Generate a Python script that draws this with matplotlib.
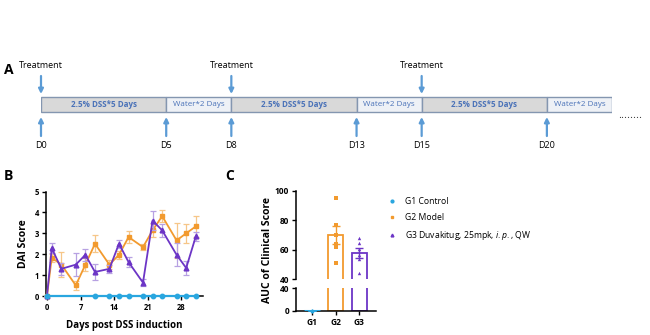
import matplotlib as mpl
mpl.use('Agg')
import matplotlib.pyplot as plt
from matplotlib.patches import Rectangle
from matplotlib.lines import Line2D
import numpy as np

plt.rcParams['font.family'] = ['Open Sans', 'DejaVu Sans']
plt.rcParams['mathtext.fontset'] = 'custom'
plt.rcParams['mathtext.rm'] = 'Open Sans'
plt.rcParams['mathtext.it'] = 'Open Sans:italic'

BLUE = '#29a6df'
ORANGE = '#f29a2e'
PURPLE = '#6c35c6'
ARROW = '#5b9bd5'
SEG_TEXT = '#4a72b8'

# dosing schedule (schematic widths, not to scale)
segment_labels = ['2.5% DSS*5 Days', 'Water*2 Days',
                  '2.5% DSS*5 Days', 'Water*2 Days',
                  '2.5% DSS*5 Days', 'Water*2 Days']
segment_kinds = ['dss', 'water', 'dss', 'water', 'dss', 'water']
segment_widths = [5, 2.6, 5, 2.6, 5, 2.6]
day_labels = ['D0', 'D5', 'D8', 'D13', 'D15', 'D20']
treatment_marks = [0, 2, 4]   # boundary index of each dose

# DAI score over time
dai_days = [0, 1, 3, 6, 8, 10, 13, 15, 17, 20, 22, 24, 27, 29, 31]
g1_days = [0, 10, 13, 15, 17, 20, 22, 24, 27, 29, 31]
g1_dai = [0] * len(g1_days)
g2_dai = [0, 1.83, 1.5, 0.51, 1.5, 2.5, 1.5, 1.97, 2.82, 2.34, 3.14,
          3.82, 2.66, 3.0, 3.33]
g2_err = [0, 0.2, 0.6, 0.2, 0.3, 0.4, 0.2, 0.2, 0.3, 0.15, 0.3,
          0.3, 0.85, 0.45, 0.5]
g3_dai = [0, 2.29, 1.3, 1.5, 1.97, 1.15, 1.3, 2.5, 1.62, 0.64, 3.61,
          3.14, 1.97, 1.34, 2.85]
g3_err = [0, 0.25, 0.3, 0.55, 0.3, 0.4, 0.2, 0.2, 0.25, 0.15, 0.45,
          0.3, 0.55, 0.35, 0.2]

# AUC of clinical score per animal
groups = ['G1', 'G2', 'G3']
g1_auc = [0, 0, 0, 0, 0, 0]
g2_auc = [95, 77, 70, 64, 62, 51]
g3_auc = [68, 64.5, 60.5, 56.5, 54, 44]
legend_labels = ['G1 Control', 'G2 Model',
                 r'G3 Duvakitug, 25mpk, $\mathit{i.p.}$, QW']

W, H = 650, 335
fig = plt.figure(figsize=(W / 100, H / 100), dpi=100)


def frac(left, top, right, bottom):
    """pixel box -> figure fraction rect"""
    return [left / W, 1 - bottom / H, (right - left) / W, (bottom - top) / H]


# ---- A: timeline ----
ax_a = fig.add_axes(frac(41, 55, 612, 155))
ax_a.set_xlim(0, sum(segment_widths))
ax_a.set_ylim(155, 55)
ax_a.axis('off')
bounds = np.concatenate([[0], np.cumsum(segment_widths)])
for i, (lab, kind) in enumerate(zip(segment_labels, segment_kinds)):
    fc = '#d9d9d9' if kind == 'dss' else '#eef1f6'
    ax_a.add_patch(Rectangle((bounds[i], 97), segment_widths[i], 15,
                             fc=fc, ec='#8496b0', lw=1.0))
    ax_a.text(bounds[i] + segment_widths[i] / 2, 104.5, lab,
              ha='center', va='center', fontsize=5.8, color=SEG_TEXT,
              fontweight='bold' if kind == 'dss' else 'normal')
for i, lab in enumerate(day_labels):
    ax_a.annotate('', xy=(bounds[i], 117), xytext=(bounds[i], 136),
                  arrowprops=dict(arrowstyle='-|>', color=ARROW, lw=1.6,
                                  mutation_scale=7, shrinkA=0, shrinkB=0))
    ax_a.text(bounds[i], 146, lab, ha='center', va='center', fontsize=6.5)
for i in treatment_marks:
    ax_a.annotate('', xy=(bounds[i], 94), xytext=(bounds[i], 76),
                  arrowprops=dict(arrowstyle='-|>', color=ARROW, lw=1.6,
                                  mutation_scale=7, shrinkA=0, shrinkB=0))
    ax_a.text(bounds[i], 66, 'Treatment', ha='center', va='center',
              fontsize=6.5)
ax_a.text(bounds[-1] + 0.25, 116, '........', ha='left', va='center',
          fontsize=8, color='#333333', clip_on=False)

# ---- B: DAI score ----
ax_b = fig.add_axes(frac(46, 191.5, 203, 296))
ax_b.errorbar(dai_days, g2_dai, yerr=g2_err, color=ORANGE, marker='s',
              ms=3.2, lw=1.3, ecolor='#f6c688', elinewidth=0.9, capsize=2,
              capthick=0.9, zorder=3, clip_on=False)
ax_b.errorbar(dai_days, g3_dai, yerr=g3_err, color=PURPLE, marker='^',
              ms=3.4, lw=1.3, ecolor='#b7a1e2', elinewidth=0.9, capsize=2,
              capthick=0.9, zorder=4, clip_on=False)
ax_b.plot(g1_days, g1_dai, color=BLUE, marker='o', ms=3.2, lw=1.6,
          zorder=5, clip_on=False)
ax_b.set_xlim(-0.2, 32.5)
ax_b.set_ylim(0, 5)
ax_b.set_xticks([0, 7, 14, 21, 28])
ax_b.set_yticks(range(6))
ax_b.set_ylabel('DAI Score', fontsize=7.5, fontweight='bold', labelpad=4)
ax_b.set_xlabel('Days post DSS induction', fontsize=7, fontweight='bold',
                labelpad=6)
for s in ['top', 'right']:
    ax_b.spines[s].set_visible(False)
for s in ['left', 'bottom']:
    ax_b.spines[s].set_linewidth(1.1)
ax_b.tick_params(labelsize=5.5, width=1.0, length=3, pad=2)
for t in ax_b.get_xticklabels() + ax_b.get_yticklabels():
    t.set_fontweight('bold')

# ---- C: AUC with broken axis ----
ax_top = fig.add_axes(frac(296, 191, 376, 279.3))
ax_bot = fig.add_axes(frac(296, 288.3, 376, 311))
ax_top.set_ylim(40, 100)
ax_bot.set_ylim(0, 40)
auc_sets = [g1_auc, g2_auc, g3_auc]
colors = [BLUE, ORANGE, PURPLE]
markers = ['o', 's', '^']
x = np.arange(len(groups))
means = [np.mean(v) for v in auc_sets]
sems = [np.std(v, ddof=1) / np.sqrt(len(v)) for v in auc_sets]
for ax in (ax_top, ax_bot):
    lo, hi = ax.get_ylim()
    for xi, m, e, vals, c, mk in zip(x, means, sems, auc_sets, colors,
                                      markers):
        ax.bar(xi, m, width=0.64, facecolor='white', edgecolor=c,
               linewidth=1.3, zorder=2)
        ax.errorbar(xi, m, yerr=e, fmt='none', ecolor=c, elinewidth=1.0,
                    capsize=3, capthick=1.0, zorder=3)
        shown = [v for v in vals if lo <= v <= hi]
        ax.scatter([xi] * len(shown), shown, color=c, marker=mk, s=6,
                   zorder=4, clip_on=False, linewidths=0)
    ax.set_xlim(-0.68, 2.72)
    for s in ['top', 'right']:
        ax.spines[s].set_visible(False)
    ax.spines['left'].set_linewidth(1.1)
    ax.spines['bottom'].set_linewidth(1.1)
    ax.tick_params(labelsize=6, width=1.0, length=3, pad=2)
ax_bot.hlines(0, -0.32, 0.32, color=BLUE, lw=2.2, zorder=5)
ax_top.set_yticks([40, 60, 80, 100])
ax_top.spines['bottom'].set_visible(False)
ax_top.tick_params(axis='x', bottom=False, labelbottom=False)
ax_bot.set_yticks([0, 40])
ax_bot.set_xticks(x)
ax_bot.set_xticklabels(groups)
for ax in (ax_top, ax_bot):
    for t in ax.get_xticklabels() + ax.get_yticklabels():
        t.set_fontweight('bold')
fig.text(268 / W, 1 - 250 / H, 'AUC of Clinical Score', rotation=90,
         ha='center', va='center', fontsize=7.5, fontweight='bold')

handles = [Line2D([], [], color=c, marker=m, ls='none', ms=2)
           for c, m in zip(colors, markers)]
fig.legend(handles, legend_labels, loc='upper left',
           bbox_to_anchor=(380 / W, 1 - 189 / H), frameon=False,
           fontsize=6.2, handletextpad=1.0, labelspacing=0.85,
           handlelength=1.0)

# panel letters
for letter, px, py in [('A', 4, 70), ('B', 4, 176), ('C', 225, 176)]:
    fig.text(px / W, 1 - py / H, letter, fontsize=10, fontweight='bold',
             ha='left', va='center')

fig.savefig('out.png', dpi=100)
